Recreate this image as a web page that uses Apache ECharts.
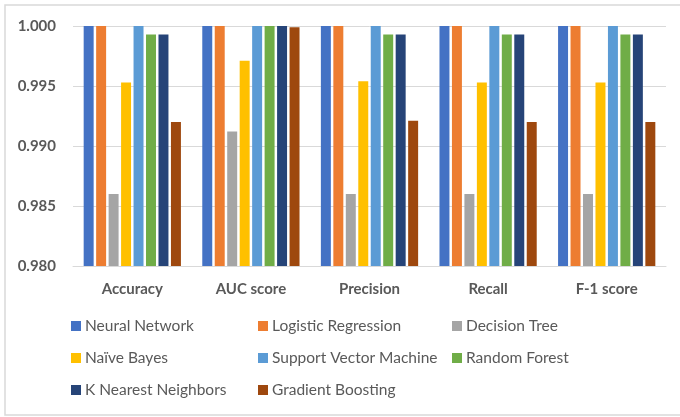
<!DOCTYPE html>
<html>
<head>
<meta charset="utf-8">
<script src="https://cdn.jsdelivr.net/npm/echarts@6/dist/echarts.min.js"></script>
<style>html,body{margin:0;padding:0;background:#fff;}#c{width:680px;height:417px;}</style>
</head>
<body>
<div id="c"></div>
<script>
const categories = ['Accuracy', 'AUC score', 'Precision', 'Recall', 'F-1 score'];
const seriesNames = ['Neural Network', 'Logistic Regression', 'Decision Tree', 'Naïve Bayes', 'Support Vector Machine', 'Random Forest', 'K Nearest Neighbors', 'Gradient Boosting'];
const neuralNetwork = [1.000, 1.000, 1.000, 1.000, 1.000];
const logisticRegression = [1.000, 1.000, 1.000, 1.000, 1.000];
const decisionTree = [0.9860, 0.9912, 0.9860, 0.9860, 0.9860];
const naiveBayes = [0.9953, 0.9971, 0.9954, 0.9953, 0.9953];
const supportVectorMachine = [1.000, 1.000, 1.000, 1.000, 1.000];
const randomForest = [0.9993, 1.000, 0.9993, 0.9993, 0.9993];
const kNearestNeighbors = [0.9993, 1.000, 0.9993, 0.9993, 0.9993];
const gradientBoosting = [0.9920, 0.9999, 0.9921, 0.9920, 0.9920];
const yTicks = [0.980, 0.985, 0.990, 0.995, 1.000];

const allValues = [neuralNetwork, logisticRegression, decisionTree, naiveBayes, supportVectorMachine, randomForest, kNearestNeighbors, gradientBoosting];
const colors = ['#4472C4', '#ED7D31', '#A5A5A5', '#FFC000', '#5B9BD5', '#70AD47', '#264478', '#9E480E'];

const chart = echarts.init(document.getElementById('c'), null, {renderer: 'canvas'});
const font = 'Lato, "Open Sans", sans-serif';
const legendCols = [[0, 3, 6], [1, 4, 7], [2, 5]];
const legendLefts = [71, 258, 452];

const option = {
  animation: false,
  color: colors,
  textStyle: {fontFamily: font},
  graphic: [{
    type: 'rect', shape: {x: 5, y: 5, width: 710, height: 410},
    style: {fill: 'none', stroke: '#d9d9d9', lineWidth: 1.5}, silent: true
  }],
  grid: {left: 73, right: 14, top: 26, bottom: 151},
  legend: legendCols.map((col, i) => ({
    orient: 'vertical', left: legendLefts[i], top: 318, padding: 0,
    itemWidth: 10, itemHeight: 10, itemGap: 16,
    icon: 'rect',
    data: col.map(k => seriesNames[k]),
    textStyle: {fontFamily: font, fontSize: 15.5, color: '#595959', lineHeight: 16, padding: [0, 0, 0, -1]},
    selectedMode: false
  })),
  xAxis: {
    type: 'category', data: categories,
    axisLine: {lineStyle: {color: '#d9d9d9', width: 1}},
    axisTick: {show: false},
    axisLabel: {fontFamily: font, fontSize: 15, fontWeight: 'bold', color: '#595959', margin: 16}
  },
  yAxis: {
    type: 'value', min: yTicks[0], max: yTicks[yTicks.length - 1], interval: 0.005,
    axisLine: {show: false}, axisTick: {show: false},
    splitLine: {lineStyle: {color: '#d9d9d9', width: 1}},
    axisLabel: {fontFamily: font, fontSize: 15, fontWeight: 'bold', color: '#595959', margin: 17,
      formatter: v => v.toFixed(3)}
  },
  series: seriesNames.map((name, i) => ({
    name: name, type: 'bar', data: allValues[i],
    barGap: '25%', barCategoryGap: '18%',
    itemStyle: {color: colors[i]}
  }))
};
chart.setOption(option);
</script>
</body>
</html>
